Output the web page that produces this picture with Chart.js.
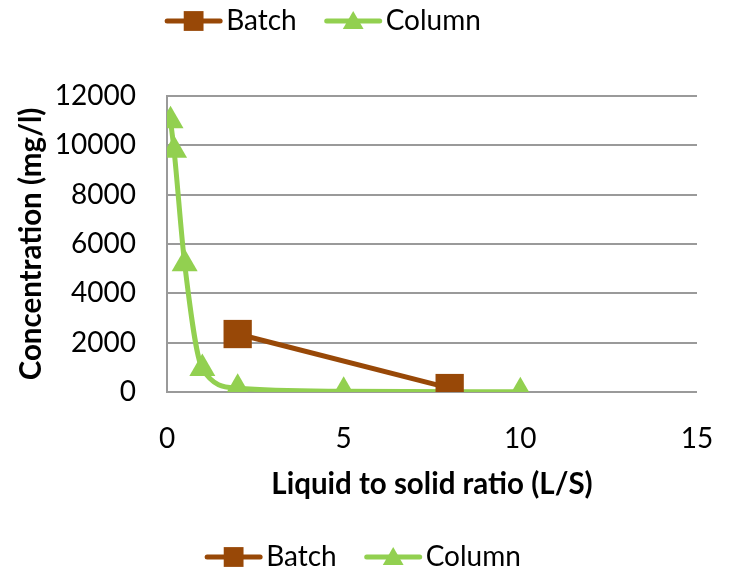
<!DOCTYPE html>
<html>
<head>
<meta charset="utf-8">
<script src="https://cdn.jsdelivr.net/npm/chart.js@4"></script>
<style>
  body { margin: 0; background: #fff; }
  canvas { display: block; }
</style>
</head>
<body>
<canvas id="graphic" width="732" height="572"></canvas>
<script>
// données
const seriesNames = ['Batch', 'Column'];
const batchX = [2, 8];
const batchY = [2350, 160];
const columnX = [0.1, 0.2, 0.5, 1, 2, 5, 10];
const columnY = [11000, 9800, 5200, 950, 150, 30, 10];
const xTicks = [0, 5, 10, 15];
const yTicks = [0, 2000, 4000, 6000, 8000, 10000, 12000];

const brown = '#984807';
const green = '#92D050';
const gridGrey = '#9a9a9a';

Chart.defaults.font.family = 'Lato';
Chart.defaults.color = '#000';

function toPoints(xs, ys) {
  return xs.map((x, i) => ({ x: x, y: ys[i] }));
}

// dessine la légende (en haut et en bas, comme sur l'original)
const twoLegends = {
  id: 'twoLegends',
  afterDraw(chart) {
    const ctx = chart.ctx;
    const lineLen = 57, gap = 4, itemGap = 28;
    ctx.save();
    ctx.font = '28px Lato';
    ctx.textBaseline = 'middle';
    [[323, 21], [363, 557]].forEach(([cx, cy]) => {
      const items = chart.data.datasets.map(ds => ({
        ds: ds, w: lineLen + gap + ctx.measureText(ds.label).width
      }));
      const total = items.reduce((s, it) => s + it.w, 0) + itemGap * (items.length - 1);
      let x = cx - total / 2;
      items.forEach(it => {
        const ds = it.ds;
        ctx.strokeStyle = ds.borderColor;
        ctx.lineWidth = 5;
        ctx.lineCap = 'round';
        ctx.beginPath();
        ctx.moveTo(x + 2, cy);
        ctx.lineTo(x + lineLen - 2, cy);
        ctx.stroke();
        ctx.fillStyle = ds.pointBackgroundColor;
        Chart.helpers.drawPoint(ctx, {
          pointStyle: ds.pointStyle,
          radius: ds.pointStyle === 'rect' ? 14 : 12,
          rotation: 0,
          borderWidth: 0
        }, x + lineLen / 2, cy + (ds.pointStyle === 'triangle' ? 2 : 0));
        ctx.fillStyle = '#000';
        ctx.textAlign = 'left';
        ctx.fillText(ds.label, x + lineLen + gap, cy);
        x += it.w + itemGap;
      });
    });
    ctx.restore();
  }
};

const ctx = document.getElementById('graphic').getContext('2d');
new Chart(ctx, {
  type: 'scatter',
  data: {
    datasets: [{
      label: seriesNames[0],
      data: toPoints(batchX, batchY),
      showLine: true,
      borderColor: brown,
      backgroundColor: brown,
      pointBackgroundColor: brown,
      borderWidth: 5,
      pointStyle: 'rect',
      pointRadius: 20,
      pointBorderWidth: 0,
      tension: 0
    }, {
      label: seriesNames[1],
      data: toPoints(columnX, columnY),
      showLine: true,
      borderColor: green,
      backgroundColor: green,
      pointBackgroundColor: green,
      borderWidth: 5,
      pointStyle: 'triangle',
      pointRadius: 15,
      pointBorderWidth: 0,
      cubicInterpolationMode: 'monotone'
    }]
  },
  options: {
    responsive: false,
    animation: false,
    layout: { padding: { left: 14, top: 96, right: 35, bottom: 70 } },
    plugins: {
      legend: { display: false },
      tooltip: { enabled: false }
    },
    scales: {
      x: {
        type: 'linear',
        min: 0,
        max: 15,
        afterFit(scale) {
          scale.height = 110;
          scale.paddingLeft = 0;
          scale.paddingRight = 0;
        },
        afterBuildTicks(scale) { scale.ticks = xTicks.map(v => ({ value: v })); },
        grid: { display: false, drawTicks: false },
        border: { display: false },
        ticks: { padding: 30, font: { size: 28 }, callback: v => String(v) },
        title: {
          display: true,
          text: 'Liquid to solid ratio (L/S)',
          font: { size: 29.5, weight: 'bold' },
          padding: 0
        }
      },
      y: {
        min: 0,
        max: 12000,
        afterFit(scale) { scale.width = 153; },
        afterBuildTicks(scale) { scale.ticks = yTicks.map(v => ({ value: v })); },
        grid: { color: gridGrey, lineWidth: 2, drawTicks: false },
        border: { display: true, color: gridGrey, width: 2 },
        ticks: { padding: 31, font: { size: 28 }, callback: v => String(v) },
        title: {
          display: true,
          text: 'Concentration (mg/l)',
          font: { size: 29.5, weight: 'bold' },
          padding: 0
        }
      }
    }
  },
  plugins: [twoLegends]
});
</script>
</body>
</html>
